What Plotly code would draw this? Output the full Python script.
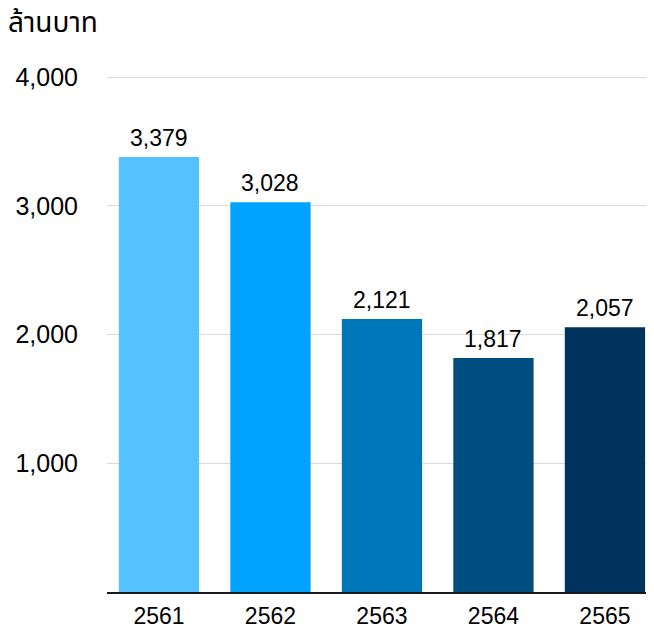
import plotly.graph_objects as go

years = ["2561", "2562", "2563", "2564", "2565"]
values = [3379, 3028, 2121, 1817, 2057]
labels = ["3,379", "3,028", "2,121", "1,817", "2,057"]
colors = ["#56C1FF", "#00A2FF", "#0076BA", "#004D80", "#00325E"]
y_ticks = [1000, 2000, 3000, 4000]
y_tick_text = ["1,000", "2,000", "3,000", "4,000"]

font_family = "Liberation Sans, Noto Sans Thai, Noto Sans, sans-serif"

# page has an 8px body margin: figure is sized to fit the 654x629 window
W, H = 646, 621

fig = go.Figure(go.Bar(
    x=years, y=values,
    marker=dict(color=colors, line=dict(width=0)),
    width=0.72, hoverinfo="x+y",
))

for i, (v, t) in enumerate(zip(values, labels)):
    fig.add_annotation(x=i, y=v, text=t, showarrow=False, yanchor="bottom",
                       yshift=4, font=dict(size=23, color="#000000", family=font_family))

fig.update_layout(
    width=W, height=H,
    margin=dict(l=99, r=0, t=68, b=37, pad=0),
    plot_bgcolor="white", paper_bgcolor="white",
    showlegend=False,
    font=dict(family=font_family, color="#000000"),
    title=dict(text="ล้านบาท", x=0.0, xanchor="left", y=1 - 14 / H, yanchor="middle",
               font=dict(size=28, color="#000000", family=font_family)),
    xaxis=dict(type="category", range=[-0.466, 4.44], showgrid=False,
               showline=True, linecolor="#1a1a1a", linewidth=2,
               ticks="", tickfont=dict(size=23), ticklabelstandoff=2),
    yaxis=dict(range=[0, 4008], tickvals=y_ticks, ticktext=y_tick_text,
               showgrid=True, gridcolor="#d9d9d9", gridwidth=1,
               zeroline=False, showline=False, ticks="",
               tickfont=dict(size=25), ticklabelstandoff=28),
)

fig.write_html("out.html")
